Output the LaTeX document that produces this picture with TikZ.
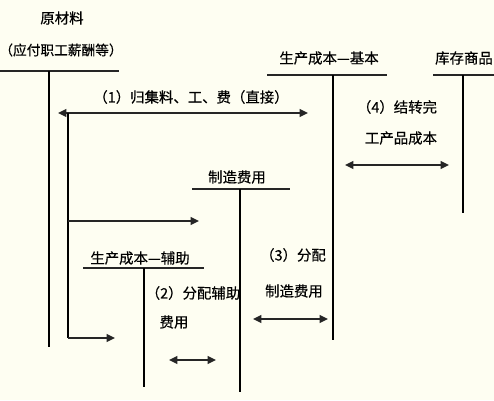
\documentclass[tikz,border=0pt]{standalone}
\usepackage{fontspec}
\setmainfont{Noto Sans CJK SC}
\newfontfamily\acctfont[FakeBold=0.4]{Noto Sans CJK SC}
\usepackage{xcolor}
\usetikzlibrary{arrows.meta,calc,positioning}
\definecolor{acctBg}{RGB}{254,254,242}
\colorlet{acctLine}{black}
\tikzset{
  accttext/.style={
    inner sep=0pt, text=black,
    font=\acctfont\fontsize{8.2}{10}\selectfont
  },
  acctrule/.style={line width=1.1pt, draw=acctLine!85},
  acctside/.style={line width=0.6pt, draw=acctLine},
  accttip/.tip={Triangle[length=4.8pt,width=4.5pt]},
  acctarrow/.style={-accttip, line width=0.9pt, draw=acctLine!85},
  acctboth/.style={accttip-accttip, line width=0.9pt, draw=acctLine!85}
}

\begin{document}
\begin{tikzpicture}[x=0.02cm,y=-0.02cm]
  \fill[acctBg] (0,0) rectangle (494,400);
  \useasboundingbox (0,0) rectangle (494,400);

  % account titles
  \node[accttext] (raw) at (62,18) {原材料};
  \node[accttext, font=\acctfont\fontsize{7.8}{10}\selectfont] (rawsub) at (61,50)
    {\kern-0.45em（应付职工薪酬等）\kern-0.45em};
  \node[accttext] (basic) at (329,58) {生产成本—基本};
  \node[accttext] (stock) at (464,58) {库存商品};
  \node[accttext] (ovh) at (237,177) {制造费用};
  \node[accttext] (aux) at (140,258) {生产成本—辅助};

  % T-account rules and sides
  \coordinate (rawL) at (0,71);   \coordinate (rawR) at (119,71);
  \coordinate (rawT) at (49,71);  \coordinate (rawE) at (49,347);
  \coordinate (basicL) at (267,75); \coordinate (basicR) at (387,75);
  \coordinate (basicT) at (333,75); \coordinate (basicE) at (333,340);
  \coordinate (stockL) at (433,75); \coordinate (stockR) at (494,75);
  \coordinate (stockT) at (463,75); \coordinate (stockE) at (463,213);
  \coordinate (ovhL) at (192,189); \coordinate (ovhR) at (290,189);
  \coordinate (ovhT) at (240,189); \coordinate (ovhE) at (240,392);
  \coordinate (auxL) at (83,268); \coordinate (auxR) at (204,268);
  \coordinate (auxT) at (144,268); \coordinate (auxE) at (144,387);

  \draw[acctrule] (rawL) -- (rawR);
  \draw[acctrule] (basicL) -- (basicR);
  \draw[acctrule] (stockL) -- (stockR);
  \draw[acctrule] (ovhL) -- (ovhR);
  \draw[acctrule] (auxL) -- (auxR);
  \draw[acctside] (rawT) -- (rawE);
  \draw[acctside] (basicT) -- (basicE);
  \draw[acctside] (stockT) -- (stockE);
  \draw[acctside] (ovhT) -- (ovhE);
  \draw[acctside] (auxT) -- (auxE);

  % flows
  \coordinate (flowL) at (58,113);  \coordinate (flowR) at (308,113);
  \coordinate (splitT) at (68,113); \coordinate (splitE) at (68,338);
  \coordinate (toOvh) at (199,221); \coordinate (toAux) at (115,338);
  \draw[acctboth] (flowL) -- (flowR);
  \draw[acctside] (splitT) -- (splitE);
  \draw[acctarrow] (splitT |- toOvh) -- (toOvh);
  \draw[acctarrow] (splitE) -- (toAux);

  \coordinate (doneL) at (345,165); \coordinate (doneR) at (449,165);
  \coordinate (auxfL) at (169,360); \coordinate (auxfR) at (216,360);
  \coordinate (ovhfL) at (253,319); \coordinate (ovhfR) at (328,319);
  \draw[acctboth] (doneL) -- (doneR);
  \draw[acctboth] (auxfL) -- (auxfR);
  \draw[acctboth] (ovhfL) -- (ovhfR);

  % flow labels
  \node[accttext] (lab1) at (191,97) {（1）归集料、工、费（直接）};
  \node[accttext] (lab4a) at (397,107) {（4）结转完};
  \node[accttext] (lab4b) at (401,138) {工产品成本};
  \node[accttext] (lab2a) at (193,293) {（2）分配辅助};
  \node[accttext] (lab2b) at (174,322) {费用};
  \node[accttext] (lab3a) at (293,255) {（3）分配};
  \node[accttext] (lab3b) at (294,291) {制造费用};
\end{tikzpicture}
\end{document}
